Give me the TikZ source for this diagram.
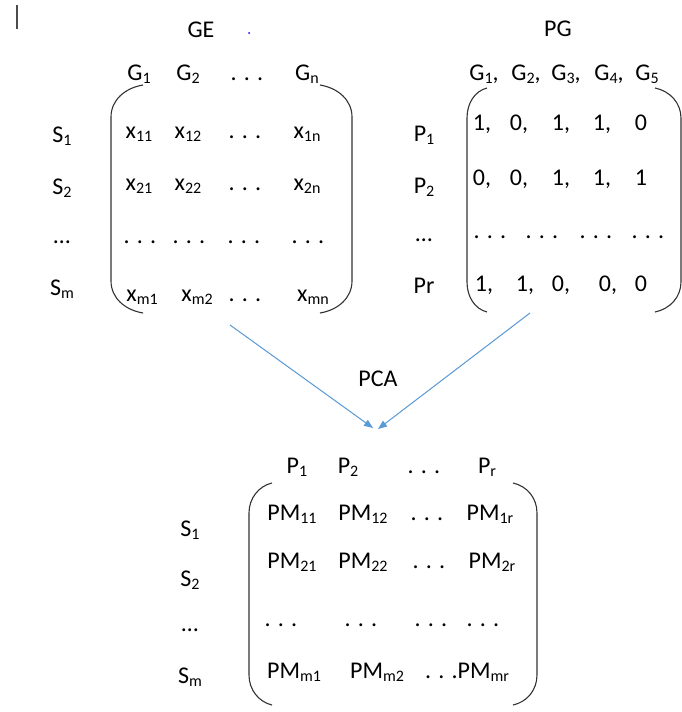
\documentclass[tikz,border=0pt]{standalone}
\usepackage{fontspec}
\setmainfont{Carlito}
\usetikzlibrary{arrows.meta}
\definecolor{flowblue}{RGB}{91,155,213}
\newcommand{\idx}[1]{\raisebox{-3pt}{\fontsize{16}{18}\selectfont #1}}
\tikzset{
  cell/.style={inner sep=0pt, anchor=base},
  paren/.style={draw=black!80, line width=1.1pt},
  flow/.style={-{Triangle[length=9pt, width=7pt]}, draw=flowblue, fill=flowblue, line width=1pt},
}

\begin{document}
\begin{tikzpicture}[x=1pt, y=-1pt, font=\fontsize{24}{28}\selectfont]
  \useasboundingbox (0,0) rectangle (682,712);

  % cursor mark and stray dot
  \draw[black!70, line width=1.5pt] (17,5) -- (17,29);
  \fill[blue] (249,33) circle (1pt);

  % Gene expression matrix
  \node[cell] (ge) at (201,37) {GE};
  \node[cell] (geg1) at (139,80) {G\idx{1}};
  \node[cell] (geg2) at (188,80) {G\idx{2}};
  \node[cell] (gegd) at (247,80) {. . .};
  \node[cell] (gegn) at (307,80) {G\idx{n}};

  \node[cell] (ges1) at (62,142) {S\idx{1}};
  \node[cell] (ges2) at (62,194) {S\idx{2}};
  \node[cell] (gesd) at (62,243) {…};
  \node[cell] (gesm) at (62,295) {S\idx{m}};

  \node[cell] (ge11) at (139,138) {x\idx{11}};
  \node[cell] (ge12) at (188,138) {x\idx{12}};
  \node[cell] (ge1d) at (245,138) {. . .};
  \node[cell] (ge1n) at (307,138) {x\idx{1n}};
  \node[cell] (ge21) at (139,190) {x\idx{21}};
  \node[cell] (ge22) at (188,190) {x\idx{22}};
  \node[cell] (ge2d) at (245,190) {. . .};
  \node[cell] (ge2n) at (307,190) {x\idx{2n}};
  \node[cell] (ged1) at (140,243) {. . .};
  \node[cell] (ged2) at (189,243) {. . .};
  \node[cell] (gedd) at (244,243) {. . .};
  \node[cell] (gedn) at (308,243) {. . .};
  \node[cell] (gem1) at (142,301) {x\idx{m1}};
  \node[cell] (gem2) at (197,301) {x\idx{m2}};
  \node[cell] (gemd) at (245,301) {. . .};
  \node[cell] (gemn) at (313,301) {x\idx{mn}};

  \draw[paren] (143,85) .. controls (125,88) and (111,100) .. (111,117)
    -- (111,281) .. controls (111,298) and (125,310) .. (143,313);
  \draw[paren] (320,85) .. controls (338,88) and (352,100) .. (352,117)
    -- (352,281) .. controls (352,298) and (338,310) .. (320,313);

  % Pathway-gene matrix
  \node[cell] (pg) at (558,36) {PG};
  \node[cell] (pgg1) at (484,80) {G\idx{1},};
  \node[cell] (pgg2) at (526,80) {G\idx{2},};
  \node[cell] (pgg3) at (566,80) {G\idx{3},};
  \node[cell] (pgg4) at (609,80) {G\idx{4},};
  \node[cell] (pgg5) at (647,80) {G\idx{5}};

  \node[cell] (pgp1) at (424,141) {P\idx{1}};
  \node[cell] (pgp2) at (424,193) {P\idx{2}};
  \node[cell] (pgpd) at (424,241) {…};
  \node[cell] (pgpr) at (424,293) {Pr};

  \node[cell] (pg11) at (482,130) {1,};
  \node[cell] (pg12) at (519,130) {0,};
  \node[cell] (pg13) at (561,130) {1,};
  \node[cell] (pg14) at (602,130) {1,};
  \node[cell] (pg15) at (641,130) {0};
  \node[cell] (pg21) at (482,185) {0,};
  \node[cell] (pg22) at (519,185) {0,};
  \node[cell] (pg23) at (561,185) {1,};
  \node[cell] (pg24) at (602,185) {1,};
  \node[cell] (pg25) at (641,185) {1};
  \node[cell] (pgd1) at (490,238) {. . .};
  \node[cell] (pgd2) at (542,238) {. . .};
  \node[cell] (pgd3) at (596,238) {. . .};
  \node[cell] (pgd4) at (648,238) {. . .};
  \node[cell] (pgr1) at (484,291) {1,};
  \node[cell] (pgr2) at (525,291) {1,};
  \node[cell] (pgr3) at (561,291) {0,};
  \node[cell] (pgr4) at (608,291) {0,};
  \node[cell] (pgr5) at (641,291) {0};

  \draw[paren] (487,88) .. controls (475,91) and (467,103) .. (467,118)
    -- (467,282) .. controls (467,297) and (475,309) .. (487,312);
  \draw[paren] (655,88) .. controls (670,91) and (681,103) .. (681,118)
    -- (681,282) .. controls (681,297) and (670,309) .. (655,312);

  % PCA step
  \coordinate (geout) at (230,325);
  \coordinate (pgout) at (530,313);
  \coordinate (pmin1) at (373,428);
  \coordinate (pmin2) at (378,429);
  \draw[flow] (geout) -- (pmin1);
  \draw[flow] (pgout) -- (pmin2);
  \node[cell] (pca) at (378,386) {PCA};

  % Pathway matrix
  \node[cell] (pmp1) at (297,473) {P\idx{1}};
  \node[cell] (pmp2) at (348,473) {P\idx{2}};
  \node[cell] (pmpd) at (424,473) {. . .};
  \node[cell] (pmpr) at (487,473) {P\idx{r}};

  \node[cell] (pms1) at (190,536) {S\idx{1}};
  \node[cell] (pms2) at (190,586) {S\idx{2}};
  \node[cell] (pmsd) at (190,631) {…};
  \node[cell] (pmsm) at (190,683) {S\idx{m}};

  \node[cell] (pm11) at (292,520) {PM\idx{11}};
  \node[cell] (pm12) at (363,520) {PM\idx{12}};
  \node[cell] (pm1d) at (427,520) {. . .};
  \node[cell] (pm1r) at (490,520) {PM\idx{1r}};
  \node[cell] (pm21) at (292,568) {PM\idx{21}};
  \node[cell] (pm22) at (363,568) {PM\idx{22}};
  \node[cell] (pm2d) at (429,568) {. . .};
  \node[cell] (pm2r) at (492,568) {PM\idx{2r}};
  \node[cell] (pmd1) at (281,626) {. . .};
  \node[cell] (pmd2) at (361,626) {. . .};
  \node[cell] (pmd3) at (431,626) {. . .};
  \node[cell] (pmd4) at (483,626) {. . .};
  \node[cell] (pmm1) at (294,678) {PM\idx{m1}};
  \node[cell] (pmm2) at (377,678) {PM\idx{m2}};
  \node[cell] (pmmr) at (467,678) {. . .PM\idx{mr}};

  \draw[paren] (272,483) .. controls (259,486) and (249,498) .. (249,513)
    -- (249,675) .. controls (249,690) and (259,702) .. (272,705);
  \draw[paren] (513,483) .. controls (527,486) and (537,498) .. (537,513)
    -- (537,675) .. controls (537,690) and (527,702) .. (513,705);

\end{tikzpicture}
\end{document}
